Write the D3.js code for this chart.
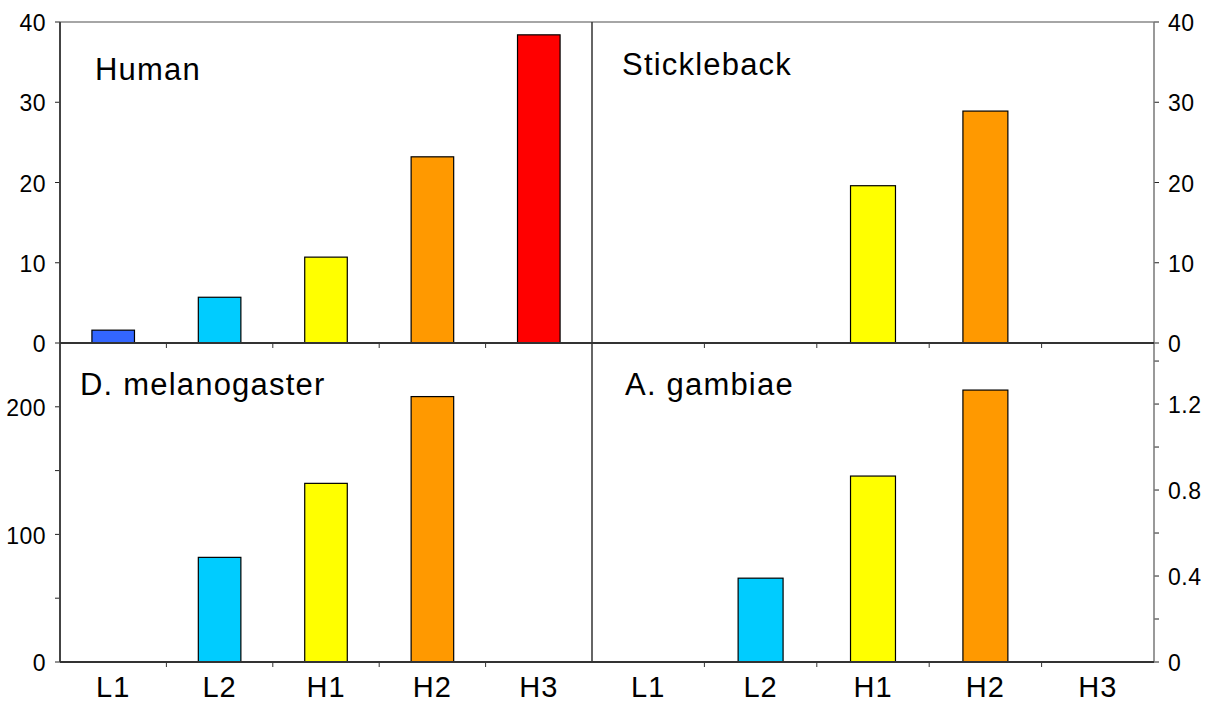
<!DOCTYPE html>
<html>
<head>
<meta charset="utf-8">
<script src="https://cdn.jsdelivr.net/npm/d3@7"></script>
<style>
  body { margin: 0; background: #fff; }
  text { font-family: "Liberation Sans", Arial, sans-serif; fill: #000; }
</style>
</head>
<body>
<script>
var categories = ['L1', 'L2', 'H1', 'H2', 'H3'];
var barColors = ['#3366ff', '#00ccff', '#ffff00', '#ff9900', '#ff0000'];

var human = [1.6, 5.7, 10.7, 23.2, 38.4];
var stickleback = [0, 0, 19.6, 28.9, 0];
var melanogaster = [0, 82, 140, 208, 0];
var gambiae = [0, 0.39, 0.865, 1.265, 0];

var humanTicks = [0, 10, 20, 30, 40];
var sticklebackTicks = [0, 10, 20, 30, 40];
var melanogasterTicks = [0, 100, 200];
var melanogasterMinor = [50, 150];
var gambiaeTicks = [0, 0.4, 0.8, 1.2];
var gambiaeMinor = [0.2, 0.6, 1.0, 1.4];

var W = 1216, H = 702,
    xL = 60, xM = 592, xR = 1154,
    yT = 22, yM = 343, yB = 662;

var svg = d3.select('body').append('svg')
    .attr('width', W)
    .attr('height', H);

var panels = [
    {name: 'Human', values: human, max: 40, ticks: humanTicks, minor: [], side: 'left',
     x0: xL, x1: xM, y0: yT, y1: yM, tx: 95, ty: 80},
    {name: 'Stickleback', values: stickleback, max: 40, ticks: sticklebackTicks, minor: [], side: 'right',
     x0: xM, x1: xR, y0: yT, y1: yM, tx: 622, ty: 75},
    {name: 'D. melanogaster', values: melanogaster, max: 250, ticks: melanogasterTicks, minor: melanogasterMinor, side: 'left',
     x0: xL, x1: xM, y0: yM, y1: yB, tx: 80, ty: 395},
    {name: 'A. gambiae', values: gambiae, max: 1.484, ticks: gambiaeTicks, minor: gambiaeMinor, side: 'right',
     x0: xM, x1: xR, y0: yM, y1: yB, tx: 625, ty: 395}
];

panels.forEach(function(p) {
    var x = d3.scaleBand().domain(categories).range([p.x0, p.x1]),
        y = d3.scaleLinear().domain([0, p.max]).range([p.y1, p.y0]);

    var bw = x.bandwidth() * 0.4;

    svg.append('g').selectAll('rect')
        .data(categories.map(function(c, i) { return {c: c, v: p.values[i], col: barColors[i]}; })
            .filter(function(d) { return d.v > 0; }))
        .enter().append('rect')
        .attr('x', function(d) { return x(d.c) + x.bandwidth() / 2 - bw / 2; })
        .attr('y', function(d) { return y(d.v); })
        .attr('width', bw)
        .attr('height', function(d) { return y(0) - y(d.v); })
        .attr('fill', function(d) { return d.col; })
        .attr('stroke', '#000')
        .attr('stroke-width', 1.2);

    // category ticks below baseline
    svg.append('g').selectAll('line')
        .data(categories.slice(1))
        .enter().append('line')
        .attr('x1', function(c) { return x(c); })
        .attr('x2', function(c) { return x(c); })
        .attr('y1', p.y1)
        .attr('y2', p.y1 + 5)
        .attr('stroke', '#333');

    // y axis
    var ax = p.side === 'left' ? p.x0 : p.x1,
        dir = p.side === 'left' ? -1 : 1;

    var g = svg.append('g');
    g.selectAll('line.maj')
        .data(p.ticks.concat(p.minor))
        .enter().append('line')
        .attr('x1', ax)
        .attr('x2', ax + dir * 5)
        .attr('y1', function(d) { return y(d); })
        .attr('y2', function(d) { return y(d); })
        .attr('stroke', '#222');
    g.selectAll('text')
        .data(p.ticks)
        .enter().append('text')
        .attr('x', ax + dir * 14)
        .attr('y', function(d) { return y(d); })
        .attr('dy', '0.4em')
        .attr('text-anchor', p.side === 'left' ? 'end' : 'start')
        .style('font-size', '23px')
        .style('letter-spacing', '0.5px')
        .text(function(d) { return d; });

    svg.append('text')
        .attr('x', p.tx)
        .attr('y', p.ty)
        .style('font-size', '31px')
        .style('letter-spacing', '1.2px')
        .text(p.name);

    if (p.y1 === yB) {
        svg.append('g').selectAll('text')
            .data(categories)
            .enter().append('text')
            .attr('x', function(c) { return x(c) + x.bandwidth() / 2; })
            .attr('y', 697)
            .attr('text-anchor', 'middle')
            .style('font-size', '29px')
            .style('letter-spacing', '1px')
            .text(function(c) { return c; });
    }
});

// frame lines
svg.append('path')
    .attr('d', 'M' + [xL, yT] + ' L' + [xR, yT])
    .attr('stroke', '#888').attr('stroke-width', 1.5).attr('fill', 'none');
svg.append('path')
    .attr('d', 'M' + [xR, yT] + ' L' + [xR, yB])
    .attr('stroke', '#777').attr('stroke-width', 1.5).attr('fill', 'none');
svg.append('path')
    .attr('d', 'M' + [xL, yT] + ' L' + [xL, yB])
    .attr('stroke', '#444').attr('stroke-width', 2).attr('fill', 'none');
svg.append('path')
    .attr('d', 'M' + [xM, yT] + ' L' + [xM, yB])
    .attr('stroke', '#333').attr('stroke-width', 1.5).attr('fill', 'none');
svg.append('path')
    .attr('d', 'M' + [xL, yM] + ' L' + [xR, yM])
    .attr('stroke', '#333').attr('stroke-width', 2).attr('fill', 'none');
svg.append('path')
    .attr('d', 'M' + [xL, yB] + ' L' + [xR, yB])
    .attr('stroke', '#333').attr('stroke-width', 2).attr('fill', 'none');
</script>
</body>
</html>
